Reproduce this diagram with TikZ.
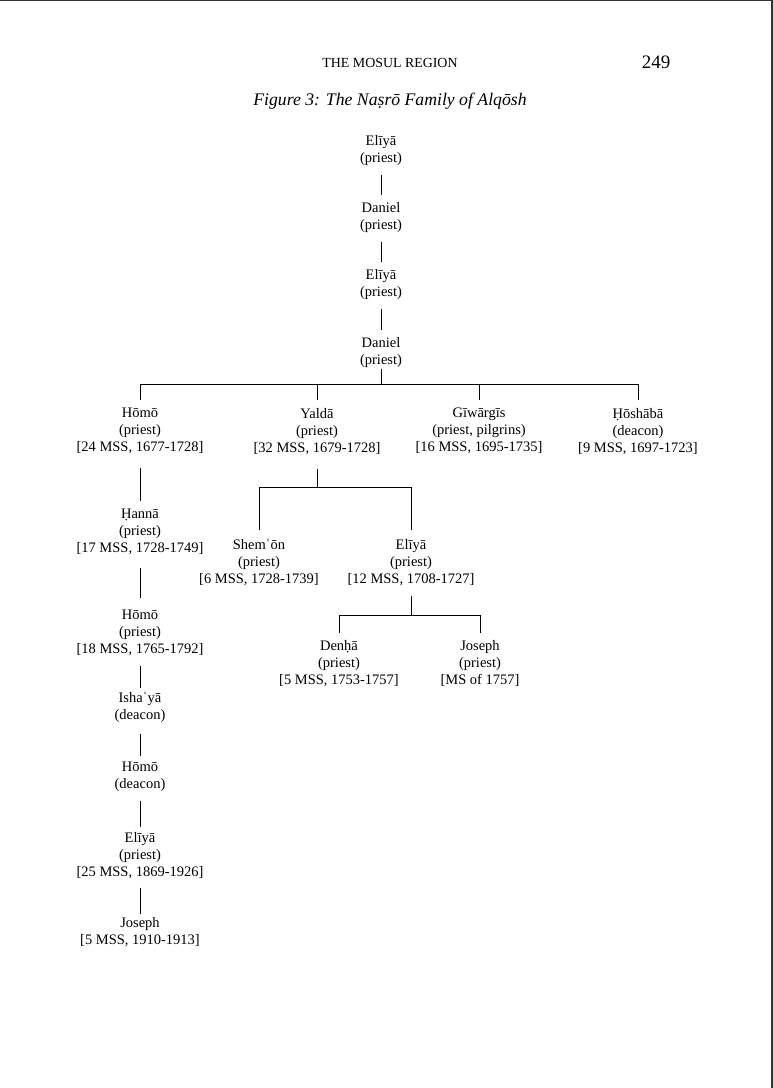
\documentclass[tikz,border=0pt]{standalone}
\usepackage{fontspec}
\setmainfont{Liberation Serif}
\tikzset{
  person/.style={align=center, inner sep=0pt, anchor=north,
    font=\fontsize{14.5}{17}\selectfont,
    execute at begin node=\strut, execute at end node=\strut},
  tree/.style={line width=0.8pt},
}
\begin{document}
\begin{tikzpicture}[x=1pt,y=-1pt]
\useasboundingbox (0,0) rectangle (773,1088);
% scan frame
\draw[line width=1.5pt,black!80] (0,0.7) -- (773,0.7);
\draw[line width=2pt,black!80] (772,0) -- (772,1088);

% running head and title
\node[anchor=base,font=\fontsize{13.9}{16}\selectfont] (head) at (390,67) {THE MOSUL REGION};
\node[anchor=base,font=\fontsize{19}{22}\selectfont] (page) at (656,68) {249};
\node[anchor=base,font=\fontsize{17.7}{20}\selectfont\itshape] (title) at (390,105)
  {Figure 3: The Naṣrō Family of Alqōsh};

% main line
\node[person] (eliyaA) at (381,135) {Elīyā\\(priest)};
\node[person] (danielA) at (381,202) {Daniel\\(priest)};
\node[person] (eliyaB) at (381,269) {Elīyā\\(priest)};
\node[person] (danielB) at (381,337) {Daniel\\(priest)};

% sons of Daniel
\node[person] (homoA) at (140,408) {Hōmō\\(priest)\\{[}24 MSS, 1677-1728]};
\node[person] (yalda) at (317,408) {Yaldā\\(priest)\\{[}32 MSS, 1679-1728]};
\node[person] (giwargis) at (479,408) {Gīwārgīs\\(priest, pilgrins)\\{[}16 MSS, 1695-1735]};
\node[person] (hoshaba) at (638,408) {Ḥōshābā\\(deacon)\\{[}9 MSS, 1697-1723]};

% line of Hōmō
\node[person] (hanna) at (140,509) {Ḥannā\\(priest)\\{[}17 MSS, 1728-1749]};
\node[person] (homoB) at (140,610) {Hōmō\\(priest)\\{[}18 MSS, 1765-1792]};
\node[person] (ishaya) at (140,692) {Ishaʿyā\\(deacon)};
\node[person] (homoC) at (140,762) {Hōmō\\(deacon)};
\node[person] (eliyaD) at (140,832) {Elīyā\\(priest)\\{[}25 MSS, 1869-1926]};
\node[person] (josephB) at (140,917) {Joseph\\{[}5 MSS, 1910-1913]};

% line of Yaldā
\node[person] (shemon) at (259,539) {Shemʿōn\\(priest)\\{[}6 MSS, 1728-1739]};
\node[person] (eliyaC) at (411,539) {Elīyā\\(priest)\\{[}12 MSS, 1708-1727]};
\node[person] (denha) at (339,640) {Denḥā\\(priest)\\{[}5 MSS, 1753-1757]};
\node[person] (josephA) at (480,640) {Joseph\\(priest)\\{[}MS of 1757]};

% single descents
\foreach \a/\b/\s/\t in {eliyaA/danielA/7/7, danielA/eliyaB/7/7, eliyaB/danielB/7/7,
    homoA/hanna/11/8, hanna/homoB/10/12, homoB/ishaya/7/4,
    ishaya/homoC/9/6, homoC/eliyaD/7/5, eliyaD/josephB/6/3}
  \draw[tree, shorten <=\s pt, shorten >=\t pt] (\a.south) -- (\b.north);

% forks
\coordinate (forkA) at (381,384);
\draw[tree] ([yshift=1pt]danielB.south) -- (forkA);
\draw[tree] (homoA.north |- forkA) -- (hoshaba.north |- forkA);
\foreach \n in {homoA,yalda,giwargis,hoshaba}
  \draw[tree] (\n.north |- forkA) -- ([yshift=8pt]\n.north);

\coordinate (forkB) at (317,487);
\draw[tree] ([yshift=-11pt]yalda.south) -- (forkB);
\draw[tree] (shemon.north |- forkB) -- (eliyaC.north |- forkB);
\foreach \n in {shemon,eliyaC}
  \draw[tree] (\n.north |- forkB) -- ([yshift=9pt]\n.north);

\coordinate (forkC) at (411,615);
\draw[tree] ([yshift=-7pt]eliyaC.south) -- (forkC);
\draw[tree] (denha.north |- forkC) -- (josephA.north |- forkC);
\foreach \n in {denha,josephA}
  \draw[tree] (\n.north |- forkC) -- ([yshift=7pt]\n.north);
\end{tikzpicture}
\end{document}
